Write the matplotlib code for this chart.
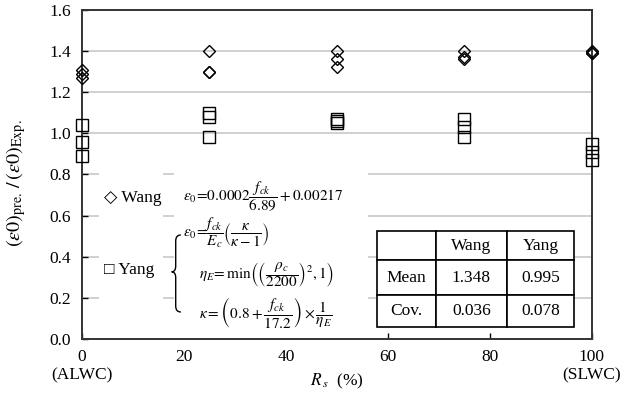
import matplotlib
matplotlib.use("Agg")
import matplotlib.pyplot as plt
from matplotlib.path import Path
from matplotlib.patches import PathPatch, Rectangle

plt.rcParams['font.family'] = ['Liberation Serif', 'DejaVu Sans']
plt.rcParams['mathtext.fontset'] = 'stix'
plt.rcParams['font.size'] = 12.5

# replacement ratio of sand (%) and the three specimens at each ratio
rs = [0, 0, 0, 25, 25, 25, 50, 50, 50, 75, 75, 75, 100, 100, 100]
wang = [1.31, 1.29, 1.27, 1.40, 1.30, 1.30, 1.40, 1.36, 1.32,
        1.40, 1.37, 1.36, 1.39, 1.39, 1.40]
yang = [1.04, 0.96, 0.89, 1.10, 1.08, 0.98, 1.07, 1.06, 1.05,
        1.07, 1.03, 0.98, 0.95, 0.91, 0.87]

xticks = [0, 20, 40, 60, 80, 100]
xtick_labels = ["0\n(ALWC)", "20", "40", "60", "80", "100\n(SLWC)"]
yticks = [0.0, 0.2, 0.4, 0.6, 0.8, 1.0, 1.2, 1.4, 1.6]

table_rows = [["", "Wang", "Yang"],
              ["Mean", "1.348", "0.995"],
              ["Cov.", "0.036", "0.078"]]

fig = plt.figure(figsize=(6.25, 3.96), dpi=100)
ax = fig.add_axes([0.131, 0.144, 0.816, 0.831])

ax.plot(rs, wang, linestyle="none", marker="D", markersize=6.2,
        markerfacecolor="none", markeredgecolor="black", markeredgewidth=1.0,
        clip_on=False, zorder=4)
ax.plot(rs, yang, linestyle="none", marker="s", markersize=8,
        markerfacecolor="none", markeredgecolor="black", markeredgewidth=1.0,
        clip_on=False, zorder=4)

ax.set_xlim(0, 100)
ax.set_ylim(0, 1.6)
ax.set_xticks(xticks)
ax.set_xticklabels(xtick_labels)
ax.set_yticks(yticks)
ax.set_yticklabels([f"{v:.1f}" for v in yticks])
ax.tick_params(direction="in", length=4, width=1, pad=8)
ax.tick_params(axis="x", pad=7)
ax.yaxis.grid(True, color="#c8c8c8", linewidth=1.2)
ax.set_axisbelow(True)
for s in ax.spines.values():
    s.set_linewidth(1.4)
    s.set_color("#333333")

ax.set_xlabel(r"$R_{\,s}$  (%)")
ax.xaxis.set_label_coords(0.5, -0.1)
ax.set_ylabel(r"$(\varepsilon\mathit{0})_{\mathrm{pre.}}\,/\,(\varepsilon\mathit{0})_{\mathrm{Exp.}}$",
              fontsize=14.5)
ax.yaxis.set_label_coords(-0.105, 0.474)

# white panels behind the legend and the formulas
ax.add_patch(Rectangle((0.033, 0.01), 0.126, 0.505, transform=ax.transAxes,
                       facecolor="white", edgecolor="none", zorder=1))
ax.add_patch(Rectangle((0.180, 0.003), 0.381, 0.51, transform=ax.transAxes,
                       facecolor="white", edgecolor="none", zorder=1))

ax.text(0.043, 0.429, "\u25c7 Wang", transform=ax.transAxes, va="center",
        ha="left", zorder=3)
ax.text(0.043, 0.21, "\u25a1 Yang", transform=ax.transAxes, va="center",
        ha="left", zorder=3)

fs = 11
ax.text(0.198, 0.432, r"$\varepsilon_0\!=\!0.0002\dfrac{f_{ck}}{6.89}+0.00217$",
        transform=ax.transAxes, va="center", ha="left", fontsize=fs, zorder=3)
ax.text(0.198, 0.322,
        r"$\varepsilon_0\!=\!\dfrac{f_{ck}}{E_c}\left(\dfrac{\kappa}{\kappa-1}\right)$",
        transform=ax.transAxes, va="center", ha="left", fontsize=fs, zorder=3)
ax.text(0.229, 0.195,
        r"$\eta_E\!=\min\left(\left(\dfrac{\rho_c}{2200}\right)^2,1\right)$",
        transform=ax.transAxes, va="center", ha="left", fontsize=fs, zorder=3)
ax.text(0.229, 0.079,
        r"$\kappa=\left(0.8+\dfrac{f_{ck}}{17.2}\right)\times\dfrac{1}{\eta_E}$",
        transform=ax.transAxes, va="center", ha="left", fontsize=fs, zorder=3)

# curly brace grouping Yang's three equations
xl, xm, xr = 0.176, 0.184, 0.194
top, mid, bot, r = 0.316, 0.204, 0.082, 0.018
verts = [(xr, top), (xm, top), (xm, top - r),
         (xm, mid + r),
         (xm, mid), (xl, mid),
         (xm, mid), (xm, mid - r),
         (xm, bot + r),
         (xm, bot), (xr, bot)]
codes = [Path.MOVETO, Path.CURVE3, Path.CURVE3,
         Path.LINETO,
         Path.CURVE3, Path.CURVE3,
         Path.CURVE3, Path.CURVE3,
         Path.LINETO,
         Path.CURVE3, Path.CURVE3]
ax.add_patch(PathPatch(Path(verts, codes), transform=ax.transAxes,
                       facecolor="none", edgecolor="black", linewidth=1.0,
                       zorder=3))

# summary statistics table
tab = ax.table(cellText=table_rows, cellLoc="center",
               colWidths=[59, 71, 67],
               bbox=[0.578, 0.036, 0.387, 0.292])
tab.auto_set_font_size(False)
tab.set_fontsize(12.5)
row_h = [29, 35, 32]
for (r_, c_), cell in tab.get_celld().items():
    cell.set_height(row_h[r_])
    cell.set_linewidth(1.2)
    cell.set_edgecolor("black")
    cell.set_facecolor("white")
tab.set_zorder(3)

fig.savefig("out.png", dpi=100)
